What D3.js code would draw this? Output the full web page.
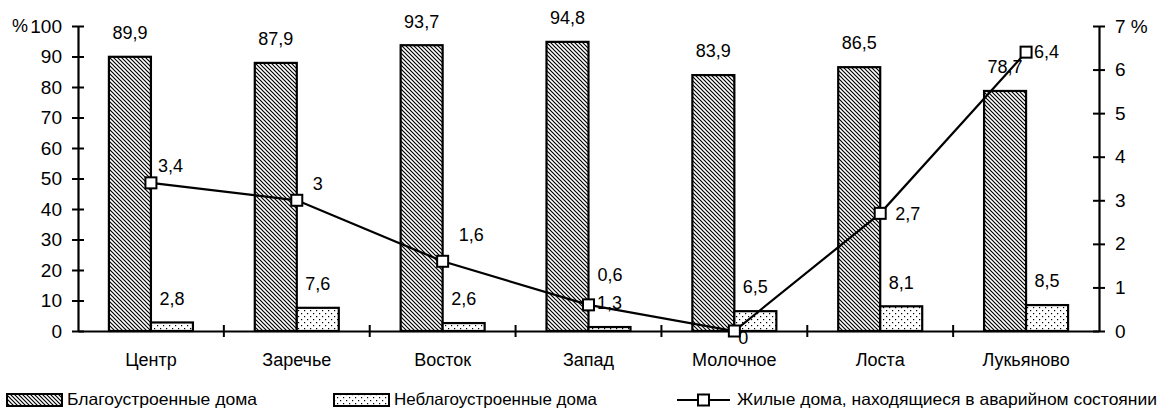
<!DOCTYPE html>
<html lang="ru">
<head>
<meta charset="UTF-8">
<title>Жилые дома по районам</title>
<script src="https://d3js.org/d3.v7.min.js"></script>
<style>
  body { margin: 0; background: #fff; }
  svg text { font-family: "Liberation Sans Narrow", "Arial Narrow", "Liberation Sans", Arial, sans-serif; font-size: 18px; fill: #000; }
  svg text.leg { font-size: 16.5px; }
</style>
</head>
<body>
<svg id="chart" width="1166" height="411"></svg>
<script>
// data
const categories = ["Центр", "Заречье", "Восток", "Запад", "Молочное", "Лоста", "Лукьяново"];
const wellBuilt = [89.9, 87.9, 93.7, 94.8, 83.9, 86.5, 78.7];
const poorlyBuilt = [2.8, 7.6, 2.6, 1.3, 6.5, 8.1, 8.5];
const emergency = [3.4, 3, 1.6, 0.6, 0, 2.7, 6.4];
const leftTicks = [0, 10, 20, 30, 40, 50, 60, 70, 80, 90, 100];
const rightTicks = [0, 1, 2, 3, 4, 5, 6, 7];

// label placement for the line values (dx from marker to text start, dy to text middle)
const emergencyLabelPos = [[7, -17], [16, -17], [16, -27], [9, -30], [4, 7], [15, 0], [8, 0]];

const fmt = v => String(v).replace(".", ",");

const svg = d3.select("#chart");

const x = d3.scaleBand().domain(categories).range([78, 1099]).padding(0);
const y = d3.scaleLinear().domain([0, 100]).range([331, 26]);
const y2 = d3.scaleLinear().domain([0, 7]).range([331, 26]);
const barW = 42;

// patterns
const defs = svg.append("defs");
defs.append("pattern")
  .attr("id", "hatch")
  .attr("patternUnits", "userSpaceOnUse")
  .attr("width", 4).attr("height", 4)
  .append("path")
  .attr("d", "M-1,-1 L5,5 M3,-1 L5,1 M-1,3 L1,5")
  .attr("stroke", "#000")
  .attr("stroke-width", 1.2);

const dots = defs.append("pattern")
  .attr("id", "dots")
  .attr("patternUnits", "userSpaceOnUse")
  .attr("width", 6).attr("height", 6);
dots.append("rect").attr("width", 6).attr("height", 6).attr("fill", "#fff");
dots.append("rect").attr("x", 1).attr("y", 1).attr("width", 1.2).attr("height", 1.2).attr("fill", "#000");
dots.append("rect").attr("x", 4).attr("y", 4).attr("width", 1.2).attr("height", 1.2).attr("fill", "#000");

const cx = c => x(c) + x.bandwidth() / 2;

// bars
svg.append("g").selectAll("rect")
  .data(categories)
  .join("rect")
  .attr("x", d => cx(d) - barW)
  .attr("y", (d, i) => y(wellBuilt[i]))
  .attr("width", barW)
  .attr("height", (d, i) => y(0) - y(wellBuilt[i]))
  .attr("fill", "url(#hatch)")
  .attr("stroke", "#000")
  .attr("stroke-width", 2.2);

svg.append("g").selectAll("rect")
  .data(categories)
  .join("rect")
  .attr("x", d => cx(d))
  .attr("y", (d, i) => y(poorlyBuilt[i]))
  .attr("width", barW)
  .attr("height", (d, i) => y(0) - y(poorlyBuilt[i]))
  .attr("fill", "url(#dots)")
  .attr("stroke", "#000")
  .attr("stroke-width", 2.2);

// left axis
const axL = svg.append("g")
  .attr("transform", "translate(78,0)")
  .call(d3.axisLeft(y).tickValues(leftTicks).tickSizeInner(6).tickSizeOuter(0).tickPadding(10));
axL.select(".domain").attr("stroke-width", 2.2);
axL.selectAll(".tick line").attr("x1", 6).attr("stroke-width", 2);
axL.selectAll(".tick text").style("font-size", "19px");
svg.append("text").attr("x", 28).attr("y", y(100)).attr("dy", "0.32em")
  .attr("text-anchor", "end").text("%");

// right axis
const axR = svg.append("g")
  .attr("transform", "translate(1099,0)")
  .call(d3.axisRight(y2).tickValues(rightTicks).tickSizeInner(6).tickSizeOuter(0).tickPadding(10));
axR.select(".domain").attr("stroke-width", 2.2);
axR.selectAll(".tick line").attr("x1", -6).attr("stroke-width", 2);
axR.selectAll(".tick text").style("font-size", "19px")
  .text(d => d === 7 ? "7 %" : d);

// x axis
const axB = svg.append("g")
  .attr("transform", `translate(0,${y(0)})`)
  .call(d3.axisBottom(x).tickSize(0).tickPadding(22));
axB.select(".domain").attr("stroke-width", 2.2);
axB.selectAll(".tick text").style("font-size", "18px");
svg.append("g").selectAll("line")
  .data(categories.slice(1))
  .join("line")
  .attr("x1", d => x(d)).attr("x2", d => x(d))
  .attr("y1", y(0) - 6).attr("y2", y(0) + 6)
  .attr("stroke", "#000").attr("stroke-width", 2);

// value labels on bars
svg.append("g").selectAll("text")
  .data(categories)
  .join("text")
  .attr("x", d => cx(d) - barW / 2)
  .attr("y", (d, i) => y(wellBuilt[i]) - 24)
  .attr("dy", "0.35em")
  .attr("text-anchor", "middle")
  .text((d, i) => fmt(wellBuilt[i]));

svg.append("g").selectAll("text")
  .data(categories)
  .join("text")
  .attr("x", d => cx(d) + barW / 2)
  .attr("y", (d, i) => y(poorlyBuilt[i]) - 24)
  .attr("dy", "0.35em")
  .attr("text-anchor", "middle")
  .text((d, i) => fmt(poorlyBuilt[i]));

// line series
const line = d3.line()
  .x((d, i) => cx(categories[i]))
  .y(d => y2(d));

svg.append("path")
  .datum(emergency)
  .attr("d", line)
  .attr("fill", "none")
  .attr("stroke", "#000")
  .attr("stroke-width", 2.2);

svg.append("g").selectAll("text")
  .data(emergency)
  .join("text")
  .attr("x", (d, i) => cx(categories[i]) + emergencyLabelPos[i][0])
  .attr("y", (d, i) => y2(d) + emergencyLabelPos[i][1])
  .attr("dy", "0.35em")
  .text(d => fmt(d));

svg.append("g").selectAll("rect")
  .data(emergency)
  .join("rect")
  .attr("x", (d, i) => cx(categories[i]) - 5.5)
  .attr("y", d => y2(d) - 5.5)
  .attr("width", 11).attr("height", 11)
  .attr("fill", "#fff")
  .attr("stroke", "#000")
  .attr("stroke-width", 2);

// legend
const legend = svg.append("g");
legend.append("rect").attr("x", 7).attr("y", 394).attr("width", 55).attr("height", 12)
  .attr("fill", "url(#hatch)").attr("stroke", "#000").attr("stroke-width", 2);
legend.append("text").attr("class", "leg").attr("x", 67).attr("y", 399).attr("dy", "0.35em")
  .attr("textLength", 190).attr("lengthAdjust", "spacingAndGlyphs")
  .text("Благоустроенные дома");

legend.append("rect").attr("x", 334).attr("y", 394).attr("width", 55).attr("height", 12)
  .attr("fill", "url(#dots)").attr("stroke", "#000").attr("stroke-width", 2);
legend.append("text").attr("class", "leg").attr("x", 394).attr("y", 399).attr("dy", "0.35em")
  .attr("textLength", 203).attr("lengthAdjust", "spacingAndGlyphs")
  .text("Неблагоустроенные дома");

legend.append("line").attr("x1", 677).attr("x2", 730).attr("y1", 400).attr("y2", 400)
  .attr("stroke", "#000").attr("stroke-width", 2);
legend.append("rect").attr("x", 698).attr("y", 394.5).attr("width", 11).attr("height", 11)
  .attr("fill", "#fff").attr("stroke", "#000").attr("stroke-width", 2);
legend.append("text").attr("class", "leg").attr("x", 737).attr("y", 399).attr("dy", "0.35em")
  .attr("textLength", 420).attr("lengthAdjust", "spacingAndGlyphs")
  .text("Жилые дома, находящиеся в аварийном состоянии");
</script>
</body>
</html>
